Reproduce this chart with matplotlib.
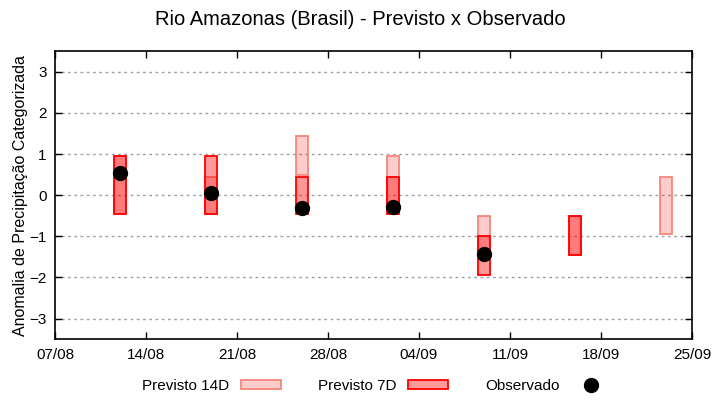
import datetime as dt
import numpy as np
import matplotlib
matplotlib.use("Agg")
import matplotlib.pyplot as plt
import matplotlib.dates as mdates
from matplotlib.patches import Patch
from matplotlib.lines import Line2D

plt.rcParams['font.family'] = ['Liberation Sans', 'DejaVu Sans']

# weekly forecasts (dates in 2023, only day/month shown)
dates14 = ["2023-08-12", "2023-08-19", "2023-08-26", "2023-09-02", "2023-09-09", "2023-09-16", "2023-09-23"]
p14_low = [-0.45, -0.45, 0.50, -0.45, -1.50, -1.45, -0.95]
p14_high = [0.95, 0.45, 1.45, 0.95, -0.50, -0.50, 0.45]

dates7 = ["2023-08-12", "2023-08-19", "2023-08-26", "2023-09-02", "2023-09-09", "2023-09-16"]
p7_low = [-0.45, -0.45, -0.45, -0.45, -1.95, -1.45]
p7_high = [0.95, 0.95, 0.45, 0.45, -1.00, -0.50]

dates_obs = ["2023-08-12", "2023-08-19", "2023-08-26", "2023-09-02", "2023-09-09"]
obs = [0.55, 0.05, -0.30, -0.28, -1.42]

xticks = ["2023-08-07", "2023-08-14", "2023-08-21", "2023-08-28", "2023-09-04",
          "2023-09-11", "2023-09-18", "2023-09-25"]

def to_dt(lst):
    return [dt.datetime.strptime(s, "%Y-%m-%d") for s in lst]

fig = plt.figure(figsize=(7.2, 4.0), dpi=100)
ax = fig.add_axes([0.0764, 0.152, 0.8847, 0.720])

c14_face = (1.0, 0.0, 0.0, 0.2)
c14_edge = '#f4877c'
c7_face = (1.0, 0.0, 0.0, 0.4)
c7_edge = '#ff0000'

x14 = mdates.date2num(to_dt(dates14))
x7 = mdates.date2num(to_dt(dates7))
h14 = np.array(p14_high) - np.array(p14_low)
h7 = np.array(p7_high) - np.array(p7_low)

ax.bar(x14, h14, bottom=p14_low, width=0.92, facecolor=c14_face,
       edgecolor=c14_edge, linewidth=1.3, zorder=3)
ax.bar(x7, h7, bottom=p7_low, width=0.92, facecolor=c7_face,
       edgecolor=c7_edge, linewidth=1.3, zorder=4)
ax.plot(mdates.date2num(to_dt(dates_obs)), obs, 'o', color='black',
        markersize=10, zorder=5, linestyle='none')

xt = mdates.date2num(to_dt(xticks))
ax.set_xlim(xt[0], xt[-1])
ax.set_xticks(xt)
ax.xaxis.set_major_formatter(mdates.DateFormatter('%d/%m'))
ax.set_ylim(-3.5, 3.5)
ax.set_yticks([-3, -2, -1, 0, 1, 2, 3])

ax.grid(axis='y', color='#a0a0a0', linestyle=(0, (2, 2.5)), linewidth=1.0, zorder=0)
ax.tick_params(direction='in', length=5, width=1, labelsize=11, top=True, right=True,
               pad=6)
for s in ax.spines.values():
    s.set_linewidth(1.2)

ax.set_ylabel('Anomalia de Precipitação Categorizada', fontsize=11.5, labelpad=1)
fig.suptitle('Rio Amazonas (Brasil) - Previsto x Observado', fontsize=14.5, y=0.975)

handles = [Patch(facecolor=c14_face, edgecolor=c14_edge, linewidth=1.3),
           Patch(facecolor=c7_face, edgecolor=c7_edge, linewidth=1.3),
           Line2D([], [], marker='o', color='black', linestyle='none', markersize=10)]
labels = ['Previsto 14D', 'Previsto 7D', 'Observado']
fig.legend(handles, labels, loc='center', bbox_to_anchor=(0.523, 0.035), ncol=3,
           frameon=False, markerfirst=False, fontsize=11, handlelength=2.6,
           handleheight=0.5, columnspacing=2.45, handletextpad=0.75)

fig.savefig('out.png', dpi=100)
